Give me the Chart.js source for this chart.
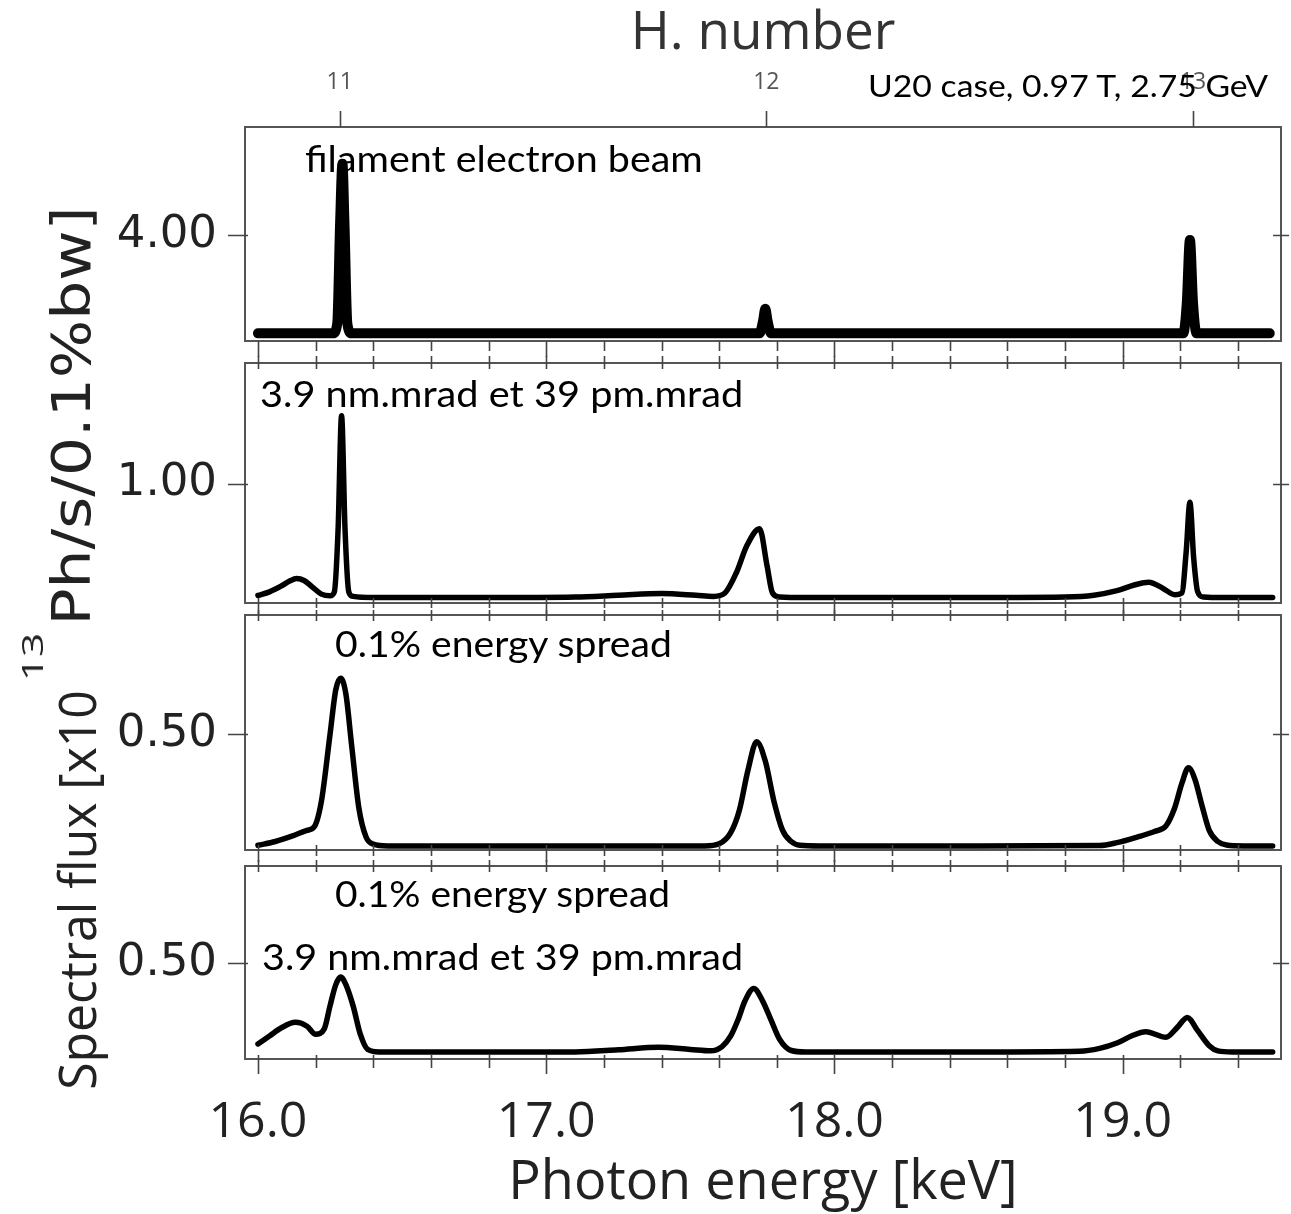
<!DOCTYPE html>
<html>
<head>
<meta charset="utf-8">
<script src="https://cdn.jsdelivr.net/npm/chart.js@4.4.0/dist/chart.umd.min.js"></script>
<style>
html, body { margin: 0; padding: 0; background: #fff; }
#wrap { position: relative; width: 1291px; height: 1214px; overflow: hidden; }
#wrap canvas { position: absolute; left: 0; top: 0; }
.note { position: absolute; font-family: Lato, "Open Sans", sans-serif; color: #000; white-space: nowrap; line-height: 1; transform-origin: left center; }
.rot { position: absolute; white-space: nowrap; line-height: 1; color: #222; }
</style>
</head>
<body>
<div id="wrap">
  <canvas id="p1" width="1291" height="1214"></canvas>
  <canvas id="p2" width="1291" height="1214"></canvas>
  <canvas id="p3" width="1291" height="1214"></canvas>
  <canvas id="p4" width="1291" height="1214"></canvas>

  <div class="note" data-w="400" style="left:868px;top:70px;font-size:30px">U20 case, 0.97 T, 2.75 GeV</div>
  <div class="note" data-w="398" style="left:305px;top:140px;font-size:36px">filament electron beam</div>
  <div class="note" data-w="483" style="left:260px;top:375px;font-size:36px">3.9 nm.mrad et 39 pm.mrad</div>
  <div class="note" data-w="337" style="left:335px;top:625px;font-size:36px">0.1% energy spread</div>
  <div class="note" data-w="335" style="left:335px;top:875px;font-size:36px">0.1% energy spread</div>
  <div class="note" data-w="481" style="left:262px;top:938px;font-size:36px">3.9 nm.mrad et 39 pm.mrad</div>

  <div class="rot" data-len="400" data-cx="76" data-cy="890" style="font-family:'Open Sans',sans-serif;font-size:52px">Spectral flux [x10</div>
  <div class="rot" data-len="48" data-cx="32" data-cy="657" style="font-family:'Open Sans',sans-serif;font-size:30px">13</div>
  <div class="rot" data-len="419" data-cx="72" data-cy="416" style="font-family:'DejaVu Sans',sans-serif;font-size:54px">Ph/s/0.1%bw]</div>
</div>
<script>
// x range shared by all panels (keV) and the harmonic spacing for the top axis
const X_MIN = 15.955;
const X_MAX = 19.549;
const E1 = 1.4803; // keV per harmonic number
const harmonicTicks = [11, 12, 13];
const xTickLabels = ['16.0', '17.0', '18.0', '19.0'];
const yTickValues = [4.00, 1.00, 0.50, 0.50];

// panel 1: filament electron beam
const filamentE = [16.00, 16.26, 16.275, 16.285, 16.293, 16.30, 16.31, 16.325, 17.74, 17.752, 17.76, 17.768, 17.78, 19.21, 19.222, 19.233, 19.244, 19.256, 19.51];
const filamentFlux = [0, 0, 0.4, 4.5, 6.9, 4.5, 0.4, 0, 0, 0.5, 1.0, 0.5, 0, 0, 1.2, 3.8, 1.2, 0, 0];

// panel 2: 3.9 nm.mrad et 39 pm.mrad
const emitE = [16.00, 16.04, 16.08, 16.11, 16.134, 16.16, 16.19, 16.22, 16.25, 16.265, 16.278, 16.29, 16.302, 16.315, 16.33, 16.40, 16.80, 17.10, 17.25, 17.40, 17.52, 17.58, 17.62, 17.66, 17.695, 17.74, 17.766, 17.785, 17.81, 17.90, 18.40, 18.80, 18.90, 18.98, 19.04, 19.09, 19.14, 19.18, 19.205, 19.22, 19.233, 19.246, 19.26, 19.28, 19.35, 19.52];
const emitFlux = [0.018, 0.05, 0.10, 0.145, 0.167, 0.15, 0.09, 0.03, 0.015, 0.05, 0.6, 1.596, 0.6, 0.05, 0.01, 0, 0, 0.005, 0.02, 0.035, 0.02, 0.01, 0.04, 0.22, 0.45, 0.605, 0.28, 0.04, 0.005, 0, 0, 0.005, 0.02, 0.06, 0.11, 0.134, 0.08, 0.025, 0.04, 0.4, 0.836, 0.35, 0.05, 0.005, 0, 0];

// panel 3: 0.1% energy spread
const spreadE = [16.00, 16.06, 16.12, 16.17, 16.195, 16.22, 16.25, 16.27, 16.287, 16.305, 16.325, 16.35, 16.375, 16.40, 16.45, 17.00, 17.55, 17.60, 17.64, 17.67, 17.70, 17.73, 17.76, 17.79, 17.82, 17.85, 17.88, 17.95, 18.50, 18.92, 18.98, 19.05, 19.11, 19.15, 19.18, 19.205, 19.228, 19.25, 19.275, 19.30, 19.33, 19.36, 19.42, 19.52];
const spreadFlux = [0.003, 0.02, 0.045, 0.07, 0.085, 0.2, 0.5, 0.7, 0.751, 0.68, 0.45, 0.17, 0.04, 0.008, 0, 0, 0, 0.01, 0.06, 0.16, 0.34, 0.467, 0.38, 0.2, 0.07, 0.02, 0.003, 0, 0, 0.002, 0.015, 0.04, 0.065, 0.09, 0.17, 0.28, 0.35, 0.3, 0.18, 0.07, 0.02, 0.004, 0, 0];

// panel 4: energy spread + emittance
const bothE = [16.00, 16.04, 16.08, 16.13, 16.17, 16.20, 16.23, 16.25, 16.27, 16.287, 16.305, 16.33, 16.355, 16.38, 16.42, 16.80, 17.10, 17.25, 17.39, 17.50, 17.57, 17.61, 17.64, 17.665, 17.69, 17.72, 17.75, 17.78, 17.81, 17.85, 17.90, 18.50, 18.85, 18.92, 18.98, 19.03, 19.08, 19.15, 19.19, 19.224, 19.26, 19.30, 19.33, 19.38, 19.52];
const bothFlux = [0.045, 0.09, 0.135, 0.167, 0.145, 0.10, 0.13, 0.26, 0.38, 0.423, 0.38, 0.26, 0.1, 0.015, 0, 0, 0, 0.012, 0.026, 0.014, 0.006, 0.03, 0.09, 0.18, 0.29, 0.358, 0.29, 0.18, 0.07, 0.008, 0, 0, 0.004, 0.02, 0.05, 0.09, 0.114, 0.083, 0.14, 0.195, 0.12, 0.035, 0.006, 0, 0];

// frame + tick marks drawn from the chart's own scales
const frameTicks = {
    id: 'frameTicks',
    afterDraw(chart) {
        const p = chart.options.plugins.frameTicks;
        const { ctx, chartArea: a, scales } = chart;
        const xs = scales.x, ys = scales.y;
        ctx.save();
        ctx.strokeStyle = '#555';
        ctx.lineWidth = 2;
        ctx.strokeRect(a.left, a.top, a.right - a.left, a.bottom - a.top);
        ctx.lineWidth = 1.6;
        ctx.strokeStyle = '#444';
        ctx.beginPath();
        for (let i = 0; i <= 17; i++) {
            const v = 16 + i * 0.2;
            const px = Math.round(xs.getPixelForValue(v)) + 0.5;
            const major = i % 5 === 0;
            ctx.moveTo(px, a.bottom - p.botIn);
            ctx.lineTo(px, a.bottom + (major ? p.botOut + 6 : p.botOut));
            if (p.topOut || p.topIn) {
                ctx.moveTo(px, a.top - p.topOut);
                ctx.lineTo(px, a.top + p.topIn);
            }
        }
        const py = Math.round(ys.getPixelForValue(p.tick)) + 0.5;
        ctx.moveTo(a.left - 17, py); ctx.lineTo(a.left + 3, py);
        ctx.moveTo(a.right - 8, py); ctx.lineTo(a.right + 8, py);
        if (scales.xh) {
            harmonicTicks.forEach(h => {
                const hx = Math.round(scales.xh.getPixelForValue(h)) + 0.5;
                ctx.moveTo(hx, a.top - 16); ctx.lineTo(hx, a.top);
            });
        }
        ctx.stroke();
        ctx.restore();
    }
};

function makePanel(canvasId, p) {
    const scales = {
        x: {
            type: 'linear', min: X_MIN, max: X_MAX,
            afterBuildTicks: s => { s.ticks = xTickLabels.map(t => ({ value: parseFloat(t) })); },
            afterFit: s => { s.height = p.bottom; },
            grid: { display: false, drawTicks: false }, border: { display: false },
            ticks: {
                display: !!p.showX, autoSkip: false, maxRotation: 0, padding: 34,
                font: { family: 'Open Sans', size: 50 }, color: '#222',
                callback: v => Number(v).toFixed(1)
            },
            title: { display: !!p.showX, text: 'Photon energy [keV]', font: { family: 'Open Sans', size: 54 }, color: '#222', padding: { top: 0, bottom: -2 } }
        },
        y: {
            min: p.yMin, max: p.yMax,
            afterFit: s => { s.width = 245; },
            afterBuildTicks: s => { s.ticks = [{ value: p.tick }]; },
            grid: { display: false, drawTicks: false }, border: { display: false },
            ticks: { padding: 28, font: { family: 'DejaVu Sans', size: 45 }, color: '#222', callback: v => Number(v).toFixed(2) }
        }
    };
    if (p.harmonic) {
        scales.xh = {
            type: 'linear', position: 'top', min: X_MIN / E1, max: X_MAX / E1,
            afterBuildTicks: s => { s.ticks = harmonicTicks.map(v => ({ value: v })); },
            afterFit: s => { s.height = p.top; },
            grid: { display: false, drawTicks: false }, border: { display: false },
            ticks: { padding: 31, font: { family: 'Open Sans', size: 23 }, color: '#555', callback: v => String(v) },
            title: { display: true, text: 'H. number', font: { family: 'Open Sans', size: 53 }, color: '#333', padding: { top: 2, bottom: 0 } }
        };
    }
    return new Chart(document.getElementById(canvasId), {
        type: 'line',
        data: {
            datasets: [{
                data: p.e.map((e, i) => ({ x: e, y: p.f[i] })),
                borderColor: '#000', borderWidth: p.lw, pointRadius: 0,
                cubicInterpolationMode: 'monotone', fill: false,
                borderJoinStyle: 'round', borderCapStyle: 'round'
            }]
        },
        options: {
            responsive: false, animation: false, parsing: false,
            layout: { padding: { top: p.harmonic ? 0 : p.top, right: 10, bottom: 0, left: 0 } },
            plugins: {
                legend: { display: false }, tooltip: { enabled: false },
                frameTicks: { tick: p.tick, botIn: p.botIn, botOut: p.botOut, topIn: p.topIn, topOut: p.topOut }
            },
            scales: scales
        },
        plugins: [frameTicks]
    });
}

function fitTexts() {
    document.querySelectorAll('.note').forEach(el => {
        const k = Number(el.dataset.w) / el.offsetWidth;
        el.style.transform = 'scaleX(' + k.toFixed(3) + ')';
    });
    document.querySelectorAll('.rot').forEach(el => {
        const k = Number(el.dataset.len) / el.offsetWidth;
        el.style.left = el.dataset.cx + 'px';
        el.style.top = el.dataset.cy + 'px';
        el.style.transform = 'translate(-50%,-50%) rotate(-90deg) scaleX(' + k.toFixed(3) + ')';
    });
}

function build() {
    makePanel('p1', { e: filamentE, f: filamentFlux, lw: 10, yMin: -0.31, yMax: 8.39, tick: yTickValues[0], harmonic: true, top: 127, bottom: 1214 - 341, botIn: 0, botOut: 10, topIn: 0, topOut: 0 });
    makePanel('p2', { e: emitE, f: emitFlux, lw: 5.5, yMin: -0.048, yMax: 2.06, tick: yTickValues[1], top: 363, bottom: 1214 - 603, botIn: 5, botOut: 5, topIn: 6, topOut: 7 });
    makePanel('p3', { e: spreadE, f: spreadFlux, lw: 5.5, yMin: -0.018, yMax: 1.034, tick: yTickValues[2], top: 615, bottom: 1214 - 850, botIn: 5, botOut: 6, topIn: 6, topOut: 5 });
    makePanel('p4', { e: bothE, f: bothFlux, lw: 5.5, yMin: -0.04, yMax: 1.05, tick: yTickValues[3], showX: true, top: 866, bottom: 1214 - 1059, botIn: 4, botOut: 9, topIn: 6, topOut: 6 });
    fitTexts();
}

if (document.fonts && document.fonts.load) {
    Promise.all([
        document.fonts.load('46px "Open Sans"'), document.fonts.load('44px "DejaVu Sans"'), document.fonts.load('36px Lato')
    ]).then(build, build);
} else {
    build();
}
</script>
</body>
</html>
